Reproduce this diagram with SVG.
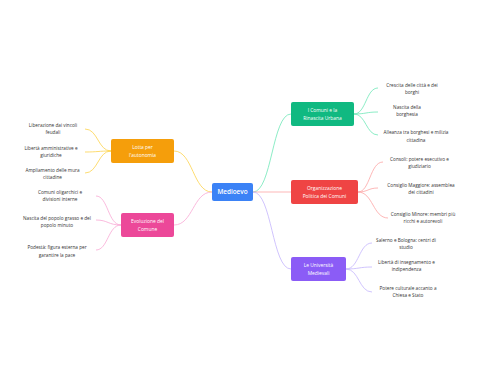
<svg xmlns="http://www.w3.org/2000/svg" width="480" height="384" viewBox="0 0 480 384">
<style>
.bg{fill:#ffffff}
.box{stroke:none}
.bt{font-family:"Open Sans","Liberation Sans",sans-serif;font-size:4.9px;fill:#ffffff;text-anchor:middle}
.root{font-family:"Open Sans","Liberation Sans",sans-serif;font-size:6.4px;font-weight:600;fill:#ffffff;text-anchor:middle}
.lt{font-family:"Open Sans","Liberation Sans",sans-serif;font-size:4.7px;fill:#333333;text-anchor:middle}
.c{fill:none;stroke-width:0.8}
.cg{stroke:#6ee7b7}
.cr{stroke:#fca5a5}
.cp{stroke:#c4b5fd}
.co{stroke:#fcd34d}
.ck{stroke:#f9a8d4}
</style>
<rect class="bg" x="0" y="0" width="480" height="384"/>
<g id="connectors">
<path class="c cg" d="M253,192 C272,192 272,114 291,114"/>
<path class="c cr" d="M253,192 L291,192"/>
<path class="c cp" d="M253,192 C272,192 272,269 291,269"/>
<path class="c co" d="M212,192 C193,192 193,151 174,151"/>
<path class="c ck" d="M212,192 C193,192 193,225 174,225"/>
<path class="c cg" d="M354,114 C366,114 366,88 378,88"/>
<path class="c cg" d="M354,114 C366,114 366,112 378,112"/>
<path class="c cg" d="M354,114 C366,114 366,135 378,135"/>
<path class="c cr" d="M358,192 C370,192 370,162 383,162"/>
<path class="c cr" d="M358,192 C368,192 368,188 378,188"/>
<path class="c cr" d="M358,192 C373,192 373,218 388,218"/>
<path class="c cp" d="M346,269 C359,269 359,243 372,243"/>
<path class="c cp" d="M346,269 C359,269 359,267 372,267"/>
<path class="c cp" d="M346,269 C359,269 359,292 372,292"/>
<path class="c co" d="M111,151 C98,151 98,129 85,129"/>
<path class="c co" d="M111,151 C98,151 98,152 85,152"/>
<path class="c co" d="M111,151 C98,151 98,173 85,173"/>
<path class="c ck" d="M121,225 C108,225 108,196 96,196"/>
<path class="c ck" d="M121,225 C108,225 108,220 96,220"/>
<path class="c ck" d="M121,225 C108,225 108,250 96,250"/>
</g>
<g id="n-root">
<rect class="box" x="212" y="183" width="41" height="18" rx="2" fill="#3b82f6"/>
<text class="root" x="232.5" y="194.3">Medioevo</text>
</g>
<g id="n-comuni">
<rect class="box" x="291" y="102" width="63" height="24" rx="2" fill="#10b981"/>
<text class="bt" x="322.5" y="112.3">I Comuni e la</text>
<text class="bt" x="322.5" y="119.8">Rinascita Urbana</text>
</g>
<g id="n-org">
<rect class="box" x="291" y="180" width="67" height="24" rx="2" fill="#ef4444"/>
<text class="bt" x="324.5" y="190.3">Organizzazione</text>
<text class="bt" x="324.5" y="197.8">Politica dei Comuni</text>
</g>
<g id="n-uni">
<rect class="box" x="291" y="257" width="55" height="24" rx="2" fill="#8b5cf6"/>
<text class="bt" x="318.5" y="267.3">Le Università</text>
<text class="bt" x="318.5" y="274.8">Medievali</text>
</g>
<g id="n-lotta">
<rect class="box" x="111" y="139" width="63" height="24" rx="2" fill="#f59e0b"/>
<text class="bt" x="142.5" y="149.3">Lotta per</text>
<text class="bt" x="142.5" y="156.8">l'autonomia</text>
</g>
<g id="n-evo">
<rect class="box" x="121" y="213" width="53" height="24" rx="2" fill="#ec4899"/>
<text class="bt" x="147.5" y="223.3">Evoluzione del</text>
<text class="bt" x="147.5" y="230.8">Comune</text>
</g>
<g id="l-crescita"><text class="lt" x="412" y="86.6">Crescita delle città e dei</text><text class="lt" x="412" y="94">borghi</text></g>
<g id="l-nascita-b"><text class="lt" x="407" y="108.9">Nascita della</text><text class="lt" x="407" y="116.3">borghesia</text></g>
<g id="l-alleanza"><text class="lt" x="416" y="134.3">Alleanza tra borghesi e milizia</text><text class="lt" x="416" y="141.6">cittadina</text></g>
<g id="l-consoli"><text class="lt" x="419.5" y="160.9">Consoli: potere esecutivo e</text><text class="lt" x="419.5" y="168.3">giudiziario</text></g>
<g id="l-maggiore"><text class="lt" x="421" y="186.6">Consiglio Maggiore: assemblea</text><text class="lt" x="421" y="193.9">dei cittadini</text></g>
<g id="l-minore"><text class="lt" x="423" y="215.6">Consiglio Minore: membri più</text><text class="lt" x="423" y="222.9">ricchi e autorevoli</text></g>
<g id="l-salerno"><text class="lt" x="406" y="241.9">Salerno e Bologna: centri di</text><text class="lt" x="406" y="249.3">studio</text></g>
<g id="l-liberta-ins"><text class="lt" x="406.5" y="263.6">Libertà di insegnamento e</text><text class="lt" x="406.5" y="270.9">indipendenza</text></g>
<g id="l-potere"><text class="lt" x="408" y="289.9">Potere culturale accanto a</text><text class="lt" x="408" y="297.3">Chiesa e Stato</text></g>
<g id="l-liberazione"><text class="lt" x="53" y="127.3">Liberazione dai vincoli</text><text class="lt" x="53" y="134.3">feudali</text></g>
<g id="l-liberta-amm"><text class="lt" x="51" y="149.9">Libertà amministrative e</text><text class="lt" x="51" y="156.6">giuridiche</text></g>
<g id="l-ampliamento"><text class="lt" x="52.5" y="172.3">Ampliamento delle mura</text><text class="lt" x="52.5" y="178.6">cittadine</text></g>
<g id="l-oligarchici"><text class="lt" x="60" y="193.6">Comuni oligarchici e</text><text class="lt" x="60" y="200.6">divisioni interne</text></g>
<g id="l-popolo"><text class="lt" x="57" y="219.9">Nascita del popolo grasso e del</text><text class="lt" x="57" y="226.6">popolo minuto</text></g>
<g id="l-podesta"><text class="lt" x="57" y="249.3">Podestà: figura esterna per</text><text class="lt" x="57" y="256.6">garantire la pace</text></g>
</svg>
